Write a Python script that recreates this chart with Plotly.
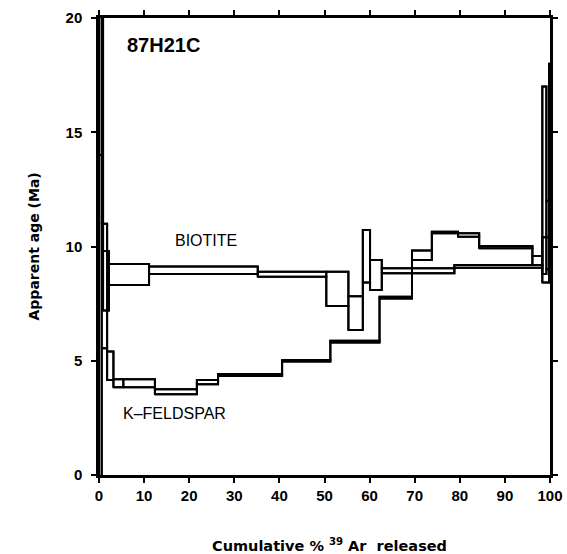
import plotly.graph_objects as go

# Biotite age spectrum: step boundaries (cumulative % 39Ar) and age range (Ma)
bio_edges = [0, 0.9, 2.2, 11.1, 35.2, 50.4, 55.3, 58.5, 60.1, 62.7, 78.8, 98.3, 99.8, 100]
bio_lo = [14.0, 7.2, 8.31, 8.80, 8.68, 7.40, 6.35, 8.42, 8.10, 8.83, 9.07, 8.42, 9.2]
bio_hi = [20.5, 9.8, 9.23, 9.12, 8.90, 8.90, 7.82, 10.72, 9.41, 9.05, 9.19, 10.40, 18.0]

# K-feldspar age spectrum
kf_edges = [0, 0.6, 1.8, 3.2, 5.4, 12.4, 21.7, 26.4, 40.6, 51.3, 62.2, 69.4, 73.8,
            79.6, 84.3, 96.1, 98.3, 99.2, 100]
kf_lo = [-1.0, 5.55, 4.16, 3.84, 3.84, 3.53, 3.97, 4.33, 4.97, 5.80, 7.72, 9.41,
         10.58, 10.43, 9.92, 9.19, 8.8, 9.0]
kf_hi = [20.5, 11.0, 5.40, 4.19, 4.19, 3.75, 4.16, 4.42, 5.03, 5.87, 7.80, 9.82,
         10.65, 10.58, 10.02, 9.58, 17.0, 12.0]

x_ticks = [0, 10, 20, 30, 40, 50, 60, 70, 80, 90, 100]
y_ticks = [0, 5, 10, 15, 20]


def boxes(edges, lo, hi):
    xs, ys = [], []
    for i in range(len(lo)):
        x0, x1 = edges[i], edges[i + 1]
        xs += [x0, x1, x1, x0, x0, None]
        ys += [lo[i], lo[i], hi[i], hi[i], lo[i], None]
    return xs, ys


def steps(edges, vals):
    xs, ys = [], []
    for i in range(len(vals)):
        xs += [edges[i], edges[i + 1]]
        ys += [vals[i], vals[i]]
    return xs, ys


fig = go.Figure()
for edges, lo, hi, name in [(bio_edges, bio_lo, bio_hi, "Biotite"),
                            (kf_edges, kf_lo, kf_hi, "K-feldspar")]:
    xs, ys = boxes(edges, lo, hi)
    fig.add_trace(go.Scatter(x=xs, y=ys, mode="lines", name=name,
                             line=dict(color="black", width=2), showlegend=False))
    for vals in (lo, hi):
        sx, sy = steps(edges, vals)
        fig.add_trace(go.Scatter(x=sx, y=sy, mode="lines", name=name,
                                 line=dict(color="black", width=2), showlegend=False))

font_family = "Liberation Sans, Arial, sans-serif"
title_family = "DejaVu Sans, sans-serif"
axis_common = dict(showline=True, linecolor="black", linewidth=2.5, mirror="ticks",
                   ticks="outside", ticklen=5, tickwidth=2, tickcolor="black",
                   showgrid=False, zeroline=False, automargin=False,
                   tickfont=dict(family=font_family, size=15, color="black", weight="bold"))

fig.update_xaxes(range=[0, 100], tickvals=x_ticks, ticktext=[str(v) for v in x_ticks],
                 **axis_common)
fig.update_yaxes(range=[0, 20], tickvals=y_ticks, ticktext=[str(v) for v in y_ticks],
                 ticklabelstandoff=6, **axis_common)

fig.add_annotation(x=14.3, y=18.8, xref="x", yref="y", text="87H21C", showarrow=False,
                   font=dict(family=font_family, size=20, color="black", weight="bold"))
fig.add_annotation(x=23.7, y=10.28, xref="x", yref="y", text="BIOTITE", showarrow=False,
                   font=dict(family=font_family, size=16, color="black"))
fig.add_annotation(x=16.8, y=2.67, xref="x", yref="y", text="K–FELDSPAR", showarrow=False,
                   font=dict(family=font_family, size=16, color="black"))

fig.add_annotation(x=0.51, y=0, xref="paper", yref="paper", yshift=-70,
                   text="Cumulative % <sup>39</sup> Ar  released", showarrow=False,
                   yanchor="middle",
                   font=dict(family=title_family, size=14.5, color="black", weight="bold"))
fig.add_annotation(x=0, y=0.5, xref="paper", yref="paper", xshift=-66,
                   text="Apparent age (Ma)", showarrow=False, textangle=-90,
                   xanchor="center",
                   font=dict(family=title_family, size=14, color="black", weight="bold"))

fig.update_layout(width=567, height=554, paper_bgcolor="white", plot_bgcolor="white",
                  margin=dict(l=99, r=17, t=18, b=79))

fig.write_html("out.html", config={"displayModeBar": False},
               post_script="document.body.style.margin='0';document.body.style.overflow='hidden';")
